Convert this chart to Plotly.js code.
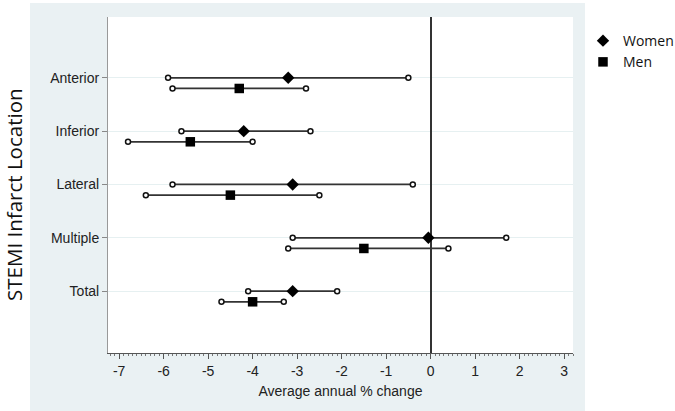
<!DOCTYPE html>
<html><head><meta charset="utf-8">
<script src="https://cdn.plot.ly/plotly-3.0.1.min.js"></script>
<style>html,body{margin:0;padding:0;background:#fff}#chart{width:675px;height:411px}</style>
</head><body><div id="chart"></div>
<script>
const categories = ['Anterior', 'Inferior', 'Lateral', 'Multiple', 'Total'];
const womenEst = [-3.2, -4.2, -3.1, -0.05, -3.1];
const womenLo  = [-5.9, -5.6, -5.8, -3.1, -4.1];
const womenHi  = [-0.5, -2.7, -0.4, 1.7, -2.1];
const menEst   = [-4.3, -5.4, -4.5, -1.5, -4.0];
const menLo    = [-5.8, -6.8, -6.4, -3.2, -4.7];
const menHi    = [-2.8, -4.0, -2.5, 0.4, -3.3];
const xTicks   = [-7, -6, -5, -4, -3, -2, -1, 0, 1, 2, 3];

const n = categories.length;
const basePos = categories.map((c, i) => n - i);
const womenPos = basePos;
const menPos = basePos.map(v => v - 0.2);

function segs(lo, hi, pos) {
  const x = [], y = [];
  lo.forEach((l, i) => { x.push(l, hi[i], null); y.push(pos[i], pos[i], null); });
  return {x, y};
}
function ends(lo, hi, pos) {
  return {x: lo.concat(hi), y: pos.concat(pos)};
}
const wS = segs(womenLo, womenHi, womenPos), mS = segs(menLo, menHi, menPos);
const wE = ends(womenLo, womenHi, womenPos), mE = ends(menLo, menHi, menPos);

const lineStyle = {color: '#333333', width: 1.8};
const endMarker = {symbol: 'circle', size: 5, color: '#ffffff', line: {color: '#111111', width: 1.5}};

const traces = [
  {x: wS.x, y: wS.y, mode: 'lines', line: lineStyle, showlegend: false, hoverinfo: 'skip'},
  {x: mS.x, y: mS.y, mode: 'lines', line: lineStyle, showlegend: false, hoverinfo: 'skip'},
  {x: wE.x, y: wE.y, mode: 'markers', marker: endMarker, showlegend: false, hoverinfo: 'skip'},
  {x: mE.x, y: mE.y, mode: 'markers', marker: endMarker, showlegend: false, hoverinfo: 'skip'},
  {x: womenEst, y: womenPos, mode: 'markers', name: 'Women',
   marker: {symbol: 'diamond', size: 9.5, color: '#000000'}},
  {x: menEst, y: menPos, mode: 'markers', name: 'Men',
   marker: {symbol: 'square', size: 9.5, color: '#000000'}}
];

const panel = '#eaf1f3';
const tickFont = {family: 'Liberation Sans', size: 14, color: '#222222'};
const layout = {
  width: 675, height: 411,
  margin: {l: 108, r: 102, t: 17, b: 58, autoexpand: false},
  paper_bgcolor: '#ffffff',
  plot_bgcolor: 'rgba(0,0,0,0)',
  font: tickFont,
  shapes: [
    {type: 'rect', xref: 'paper', yref: 'paper', x0: -0.1677, x1: 1.0258, y0: -0.18, y1: 1.0417,
     fillcolor: panel, line: {width: 0}, layer: 'below'},
    {type: 'rect', xref: 'paper', yref: 'paper', x0: 0, x1: 1, y0: 0, y1: 1,
     fillcolor: '#ffffff', line: {width: 0}, layer: 'below'}
  ],
  annotations: [
    {text: 'STEMI Infarct Location', xref: 'paper', yref: 'paper', x: -0.2025, y: 0.47,
     xanchor: 'center', yanchor: 'middle', textangle: -90, showarrow: false,
     font: {family: 'Open Sans', size: 20.5, color: '#111111'}}
  ],
  xaxis: {
    range: [-7.25, 3.2],
    tickvals: xTicks, ticktext: xTicks.map(String),
    tickfont: tickFont,
    ticks: 'outside', ticklen: 5, tickcolor: '#555555', tickwidth: 1,
    minor: {dtick: 0.1, ticks: 'outside', ticklen: 2, tickcolor: '#777777', showgrid: false},
    showline: true, linecolor: '#555555', linewidth: 1,
    showgrid: false,
    zeroline: true, zerolinecolor: '#333333', zerolinewidth: 2,
    title: {text: 'Average annual % change', font: tickFont, standoff: 8},
    fixedrange: true, automargin: false
  },
  yaxis: {
    range: [-0.16, 6.14],
    tickvals: basePos, ticktext: categories,
    tickfont: tickFont,
    ticks: 'outside', ticklen: 5, tickcolor: '#888888',
    showline: true, linecolor: '#999999', linewidth: 1,
    showgrid: true, gridcolor: '#e6f0f1', gridwidth: 1,
    zeroline: false,
    fixedrange: true, automargin: false
  },
  showlegend: true,
  legend: {x: 1.0215, y: 0.976, xanchor: 'left', yanchor: 'top', bgcolor: 'rgba(0,0,0,0)',
           font: {family: 'Open Sans', size: 14, color: '#111111'}, tracegroupgap: 0}
};

Plotly.newPlot('chart', traces, layout, {staticPlot: true, displayModeBar: false});
</script>
</body></html>
